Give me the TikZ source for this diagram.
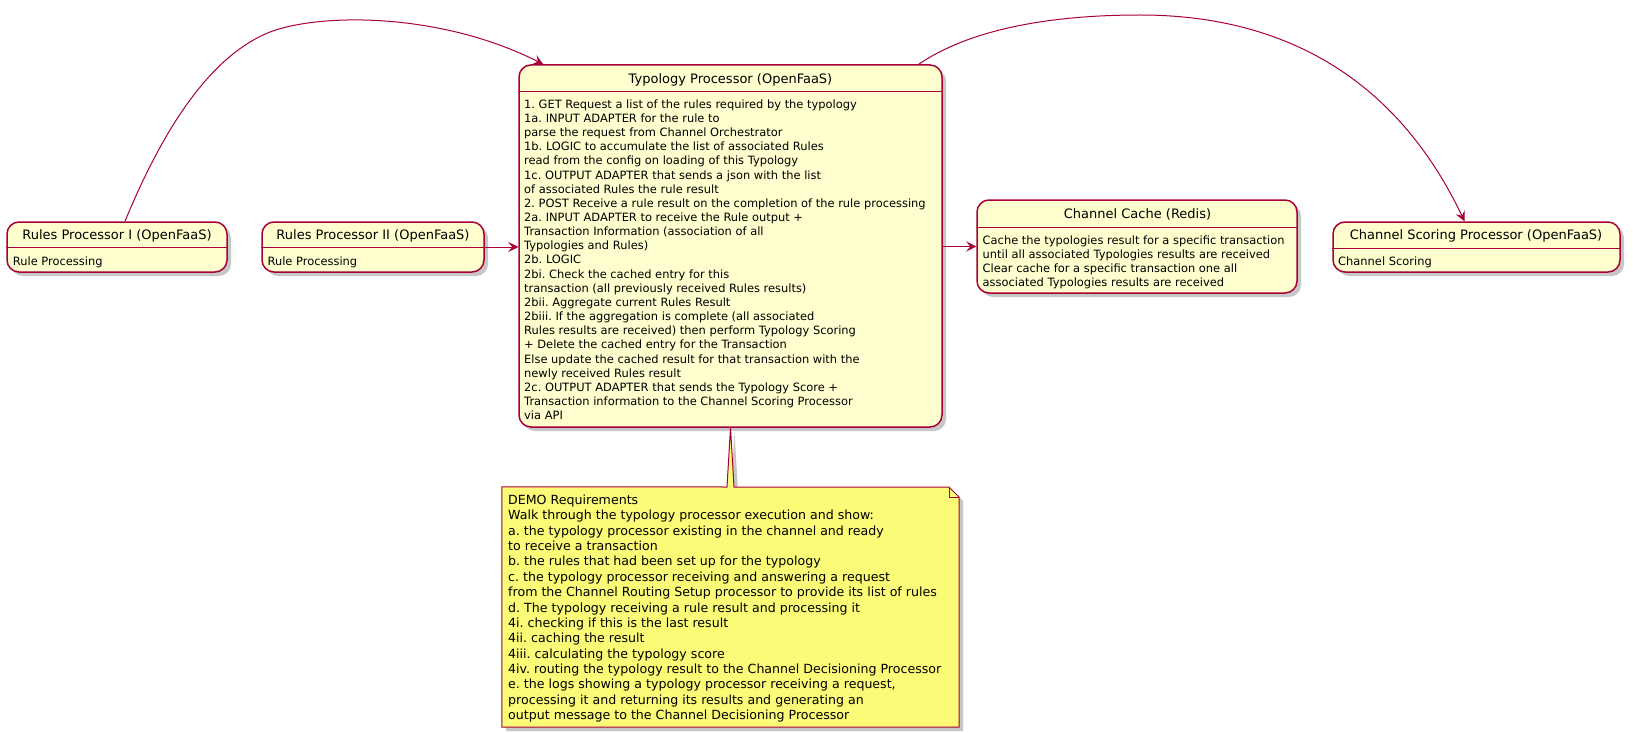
\documentclass[tikz,border=0pt]{standalone}
\usepackage{fontspec}
\setmainfont{DejaVu Sans}
\frenchspacing
\usetikzlibrary{arrows.meta,shadows,calc}
\definecolor{umlfill}{HTML}{FEFECE}
\definecolor{umlline}{HTML}{A80036}
\definecolor{notefill}{HTML}{FBFB77}
\newcommand\titlefnt{\fontsize{13}{16}\selectfont}
\newcommand\bodyfnt{\fontsize{11.44}{14.15}\selectfont}
\newcommand\notefnt{\fontsize{12.6}{15.38}\selectfont}
\begin{document}
\begin{tikzpicture}[x=1pt,y=-1pt,
  statebox/.style={draw=umlline, fill=umlfill, line width=1.5pt, rounded corners=12pt, inner sep=0pt,
    drop shadow={shadow xshift=4pt,shadow yshift=-4pt,opacity=0.22,fill=black}},
  sepline/.style={draw=umlline,line width=1pt},
  ttl/.style={anchor=base, inner sep=0pt, font=\titlefnt},
  bdy/.style={anchor=north west, inner sep=0pt, align=left, font=\bodyfnt},
  conn/.style={draw=umlline, line width=1pt, -{Stealth[length=10pt,width=10pt,inset=4pt]}},
]
\useasboundingbox (0,0) rectangle (1633,733);

% boxes
\node[statebox, minimum width=220pt, minimum height=50pt] (rp1) at (117,247) {};
\node[statebox, minimum width=222pt, minimum height=50pt] (rp2) at (373,247) {};
\node[statebox, minimum width=423pt, minimum height=362pt] (tp) at (730.5,246) {};
\node[statebox, minimum width=320pt, minimum height=93pt] (cc) at (1137,246.5) {};
\node[statebox, minimum width=287pt, minimum height=50pt] (cs) at (1476.5,247) {};

% separators
\draw[sepline] (rp1.west |- 0,247) -- (rp1.east |- 0,247);
\draw[sepline] (rp2.west |- 0,247) -- (rp2.east |- 0,247);
\draw[sepline] (tp.west |- 0,92) -- (tp.east |- 0,92);
\draw[sepline] (cc.west |- 0,227) -- (cc.east |- 0,227);
\draw[sepline] (cs.west |- 0,248) -- (cs.east |- 0,248);

% titles
\node[ttl] (rp1t) at (117,239.3) {Rules Processor I (OpenFaaS)};
\node[ttl] (rp2t) at (373,239.3) {Rules Processor II (OpenFaaS)};
\node[ttl] (tpt) at (730.5,83.3) {Typology Processor (OpenFaaS)};
\node[ttl] (cct) at (1137.5,218.3) {Channel Cache (Redis)};
\node[ttl] (cst) at (1476,239.3) {Channel Scoring Processor (OpenFaaS)};

% bodies
\node[bdy] (rp1b) at (12.7,254.9) {\strut Rule Processing};
\node[bdy] (rp2b) at (267.4,254.9) {\strut Rule Processing};
\node[bdy] (cssb) at (1338,254.9) {\strut Channel Scoring};
\node[bdy] (ccb) at (982.5,233.9) {\strut Cache the typologies result for a specific transaction\\
until all associated Typologies results are received\\
Clear cache for a specific transaction one all\\
associated Typologies results are received};
\node[bdy] (tpb) at (524,98.2) {\strut 1. GET Request a list of the rules required by the typology\\
1a. INPUT ADAPTER for the rule to\\
parse the request from Channel Orchestrator\\
1b. LOGIC to accumulate the list of associated Rules\\
read from the config on loading of this Typology\\
1c. OUTPUT ADAPTER that sends a json with the list\\
of associated Rules the rule result\\
2. POST Receive a rule result on the completion of the rule processing\\
2a. INPUT ADAPTER to receive the Rule output +\\
Transaction Information (association of all\\
Typologies and Rules)\\
2b. LOGIC\\
2bi. Check the cached entry for this\\
transaction (all previously received Rules results)\\
2bii. Aggregate current Rules Result\\
2biii. If the aggregation is complete (all associated\\
Rules results are received) then perform Typology Scoring\\
+ Delete the cached entry for the Transaction\\
Else update the cached result for that transaction with the\\
newly received Rules result\\
2c. OUTPUT ADAPTER that sends the Typology Score +\\
Transaction information to the Channel Scoring Processor\\
via API};

% note
\node[inner sep=0pt, minimum width=457pt, minimum height=240pt] (note) at (730.5,607) {};
\draw[draw=umlline, fill=notefill, line width=1pt,
  preaction={draw=none, fill=black, opacity=0.22, transform canvas={xshift=4pt,yshift=-4pt}}]
  (note.north west) -- (727,487) -- (tp.south) -- (734,487) -- (949,487) -- (959,497)
  -- (note.south east) -- (note.south west) -- cycle;
\draw[draw=umlline, line width=1pt] (949,487) -- (949,497) -- (959,497);
\node[bdy, font=\notefnt] (notet) at (508,493.4) {\strut DEMO Requirements\\
Walk through the typology processor execution and show:\\
a. the typology processor existing in the channel and ready\\
to receive a transaction\\
b. the rules that had been set up for the typology\\
c. the typology processor receiving and answering a request\\
from the Channel Routing Setup processor to provide its list of rules\\
d. The typology receiving a rule result and processing it\\
4i. checking if this is the last result\\
4ii. caching the result\\
4iii. calculating the typology score\\
4iv. routing the typology result to the Channel Decisioning Processor\\
e. the logs showing a typology processor receiving a request,\\
processing it and returning its results and generating an\\
output message to the Channel Decisioning Processor};

% connectors
\draw[conn] ($(rp1.north)+(8,0)$) .. controls (175,100) and (225,50) .. (270,32)
  .. controls (320,13) and (440,12) .. ($(tp.north west)+(25,0)$);
\draw[conn] (rp2.east) -- (rp2.east -| tp.west);
\draw[conn] (tp.east |- cc.west) -- (cc.west);
\draw[conn] ($(tp.north east)+(-24,0)$) .. controls (960,36) and (1030,15) .. (1140,15)
  .. controls (1280,15) and (1395,75) .. ($(cs.north)+(-12,0)$);
\end{tikzpicture}
\end{document}
